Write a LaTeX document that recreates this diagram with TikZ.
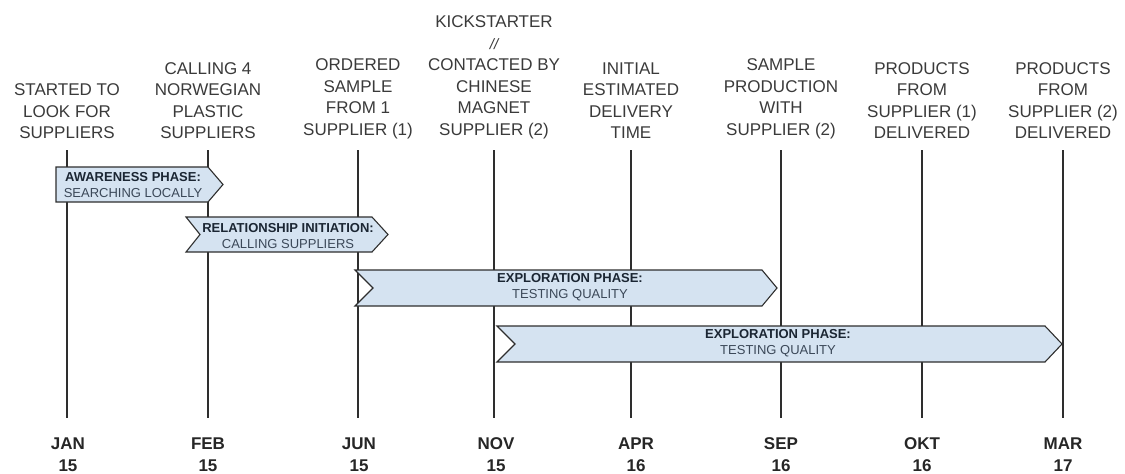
\documentclass[tikz,border=0pt]{standalone}
\usepackage{fontspec}
\setmainfont{Liberation Sans}
\definecolor{barblue}{HTML}{D5E3F1}
\definecolor{labelgray}{HTML}{3A3A3A}
\definecolor{linegray}{HTML}{2E2E2E}
\definecolor{bardark}{HTML}{1B2633}
\definecolor{barsoft}{HTML}{3B4858}
\tikzset{
  toplabel/.style={font=\fontsize{17}{21.5}\selectfont, text=labelgray, align=center, anchor=south, inner sep=0pt},
  monthlabel/.style={font=\bfseries\fontsize{17}{22}\selectfont, text=black!85, align=center, inner sep=0pt},
  timeline/.style={draw=linegray, line width=1.1pt},
  phasebar/.style={draw=linegray, fill=barblue, line width=1.1pt, line join=miter},
  bartext/.style={align=center, font=\fontsize{13}{16}\selectfont, text=barsoft, inner sep=0pt}
}
\begin{document}
\begin{tikzpicture}[x=1pt,y=-1pt]
\useasboundingbox (0,0) rectangle (1125,474);
% timeline coordinates
\foreach \n/\x in {a/67,b/208,c/358,d/494,e/631,f/781,g/922,h/1063}{
  \coordinate (t\n) at (\x,150);
  \coordinate (b\n) at (\x,418);
}
\foreach \n in {a,b,c,d,e,f,g,h}{ \draw[timeline] (t\n) -- (b\n); }

% top labels
\node[toplabel] (la) at (67,139) {STARTED TO\\LOOK FOR\\SUPPLIERS};
\node[toplabel] (lb) at (208,139) {CALLING 4\\NORWEGIAN\\PLASTIC\\SUPPLIERS};
\node[toplabel] (lc) at (358,139) {ORDERED\\SAMPLE\\FROM 1\\SUPPLIER (1)};
\node[toplabel] (ld) at (494,139) {KICKSTARTER\\{\fontsize{15}{21.5}\selectfont\itshape //}\\CONTACTED BY\\CHINESE\\MAGNET\\SUPPLIER (2)};
\node[toplabel] (le) at (631,139) {INITIAL\\ESTIMATED\\DELIVERY\\TIME};
\node[toplabel] (lf) at (781,139) {SAMPLE\\PRODUCTION\\WITH\\SUPPLIER (2)};
\node[toplabel] (lg) at (922,139) {PRODUCTS\\FROM\\SUPPLIER (1)\\DELIVERED};
\node[toplabel] (lh) at (1063,139) {PRODUCTS\\FROM\\SUPPLIER (2)\\DELIVERED};

% month labels
\node[monthlabel] (ma) at (68,455) {JAN\\15};
\node[monthlabel] (mb) at (208,455) {FEB\\15};
\node[monthlabel] (mc) at (359,455) {JUN\\15};
\node[monthlabel] (md) at (496,455) {NOV\\15};
\node[monthlabel] (me) at (636,455) {APR\\16};
\node[monthlabel] (mf) at (781,455) {SEP\\16};
\node[monthlabel] (mg) at (922,455) {OKT\\16};
\node[monthlabel] (mh) at (1063,455) {MAR\\17};

% phase bars
\draw[phasebar] (56,167) -- (208,167) -- (223,184.5) -- (208,202) -- (56,202) -- cycle;
\node[bartext] (p1) at (133,185) {\textcolor{bardark}{\bfseries AWARENESS PHASE:}\\SEARCHING LOCALLY};

\draw[phasebar] (186,217) -- (372,217) -- (388,234.5) -- (372,252) -- (186,252) -- (200,234.5) -- cycle;
\node[bartext] (p2) at (288,236) {\textcolor{bardark}{\bfseries RELATIONSHIP INITIATION:}\\CALLING SUPPLIERS};

\draw[phasebar] (355,270) -- (762,270) -- (777,288) -- (762,306) -- (355,306) -- (373,288) -- cycle;
\node[bartext] (p3) at (570,287) {\textcolor{bardark}{\bfseries EXPLORATION PHASE:}\\TESTING QUALITY};

\draw[phasebar] (497,326) -- (1045,326) -- (1062,344) -- (1045,362) -- (497,362) -- (515,344) -- cycle;
\node[bartext] (p4) at (778,343) {\textcolor{bardark}{\bfseries EXPLORATION PHASE:}\\TESTING QUALITY};
\end{tikzpicture}
\end{document}
